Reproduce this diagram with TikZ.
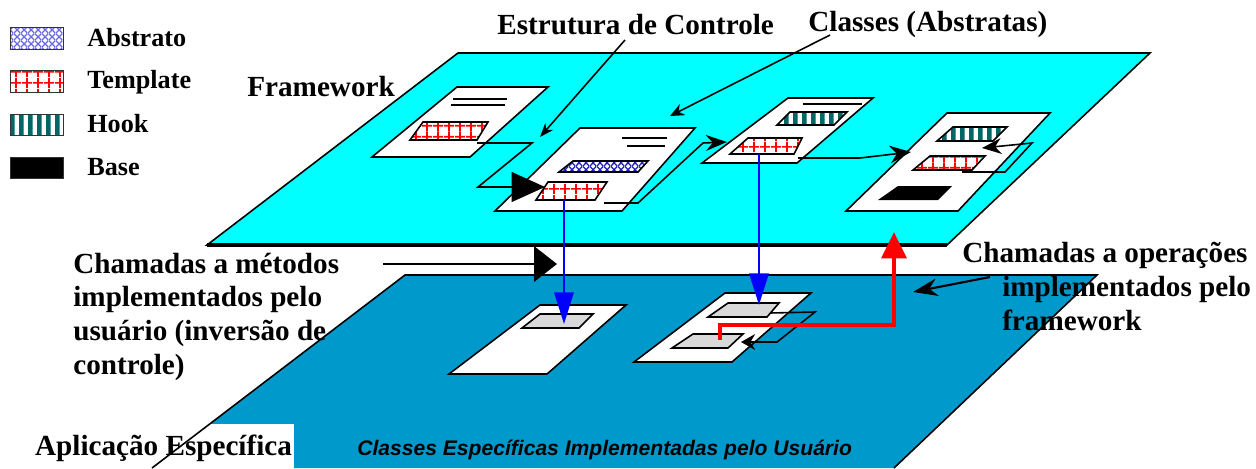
\documentclass[tikz,border=0pt]{standalone}
\usepackage{fontspec}
\setmainfont{Liberation Serif}
\setsansfont{Liberation Sans}
\usetikzlibrary{arrows.meta, patterns}

\definecolor{fwcyan}{HTML}{00FFFF}
\definecolor{appblue}{HTML}{0099CC}
\definecolor{hookteal}{HTML}{006666}
\definecolor{absblue}{HTML}{2020C0}
\definecolor{legblue}{HTML}{6A6AE6}
\definecolor{grayfill}{HTML}{D9D9D9}

\pgfdeclarepatternformonly{redgrid}{\pgfpointorigin}{\pgfpoint{6pt}{6pt}}{\pgfpoint{6pt}{6pt}}{
	\pgfsetlinewidth{1pt}
	\pgfpathmoveto{\pgfpoint{0pt}{3pt}}\pgfpathlineto{\pgfpoint{6pt}{3pt}}
	\pgfpathmoveto{\pgfpoint{3pt}{0pt}}\pgfpathlineto{\pgfpoint{3pt}{6pt}}
	\pgfusepath{stroke}}
\pgfdeclarepatternformonly{absgrid}{\pgfpointorigin}{\pgfpoint{4pt}{4pt}}{\pgfpoint{4pt}{4pt}}{
	\pgfsetlinewidth{0.8pt}
	\pgfpathmoveto{\pgfpoint{0pt}{0pt}}\pgfpathlineto{\pgfpoint{4pt}{4pt}}
	\pgfpathmoveto{\pgfpoint{0pt}{4pt}}\pgfpathlineto{\pgfpoint{4pt}{0pt}}
	\pgfusepath{stroke}}
\pgfdeclarepatternformonly{hookstripes}{\pgfpointorigin}{\pgfpoint{5pt}{5pt}}{\pgfpoint{5pt}{5pt}}{
	\pgfsetlinewidth{2.6pt}
	\pgfpathmoveto{\pgfpoint{2.5pt}{0pt}}\pgfpathlineto{\pgfpoint{2.5pt}{5pt}}
	\pgfusepath{stroke}}

\begin{document}
\begin{tikzpicture}[
		x=0.2mm, y=-0.2mm,
		>=Stealth,
		lbl/.style={font=\fontsize{16.6}{19.1}\selectfont\bfseries, inner sep=0pt, anchor=base west, align=left},
		leglbl/.style={font=\fontsize{14.9}{17}\selectfont\bfseries, inner sep=0pt, anchor=base west},
		legbox/.style={draw=black!80, line width=0.6pt, minimum width=30.6pt, minimum height=12.2pt, inner sep=0pt},
		cls/.style={draw, fill=white, line width=0.9pt},
		tplbox/.style={draw, line width=0.9pt, preaction={fill=white}, pattern=redgrid, pattern color=red},
		absbox/.style={draw, line width=0.9pt, preaction={fill=white}, pattern=absgrid, pattern color=absblue},
		hookbox/.style={draw, line width=0.9pt, preaction={fill=white}, pattern=hookstripes, pattern color=hookteal},
		graybox/.style={draw, line width=0.9pt, fill=grayfill},
		conn/.style={line width=0.9pt},
		blueconn/.style={blue, line width=1.5pt, -{Triangle[length=18pt,width=11pt]}},
		redconn/.style={red, line width=2.5pt, -{Triangle[length=15pt,width=14pt]}}
	]
	\useasboundingbox (0,0) rectangle (1256,468);

	% planes
	\draw[fill=fwcyan, line width=0.9pt] (207,245) -- (458,53) -- (1150,53) -- (947,245) -- cycle;
	\draw[line width=2pt] (207,245) -- (947,245);
	\fill[appblue] (152,468) -- (405,275) -- (1097,275) -- (894,468) -- cycle;

	% legend
	\node[legbox, preaction={fill=white}, pattern=absgrid, pattern color=legblue] (legabs) at (37,38.5) {};
	\node[legbox, preaction={fill=white}, pattern=redgrid, pattern color=red] (legtpl) at (37,81.5) {};
	\node[legbox, preaction={fill=white}, pattern=hookstripes, pattern color=hookteal] (leghook) at (37,125) {};
	\node[legbox, fill=black] (legbase) at (37,168) {};
	\node[leglbl] (labs) at (87,46) {Abstrato};
	\node[leglbl] (ltpl) at (87,88) {Template};
	\node[leglbl] (lhook) at (87,132) {Hook};
	\node[leglbl] (lbase) at (87,175) {Base};

	% texts (multi-line: base = last line)
	\node[lbl] (fwtxt) at (247,96) {Framework};
	\node[lbl] (ctrltxt) at (497,34) {Estrutura de Controle};
	\node[lbl] (clstxt) at (808,31) {Classes (Abstratas)};
	\node[lbl] (mettxt) at (73,374) {Chamadas a métodos\\implementados pelo\\usuário (inversão de\\controle)};
	\node[lbl] (optxt) at (962,330) {Chamadas a operações\\\hspace*{22.7pt}implementados pelo\\\hspace*{22.7pt}framework};
	\node[lbl, fill=white, inner xsep=1pt, inner ysep=6pt] (apptxt) at (33,455) {Aplicação Específica};
	\node[font=\fontsize{12}{14}\selectfont\sffamily\bfseries\itshape, inner sep=0pt, anchor=base west] (spectxt) at (357,455) {Classes Específicas Implementadas pelo Usuário};

	\draw[line width=0.9pt] (152,468) -- (405,275) -- (1097,275) -- (894,468);
	\draw[line width=1.5pt] (405,275) -- (1097,275);

	% framework classes
	\draw[cls] (457,87) -- (548,87) -- (470,157) -- (372,157) -- cycle;
	\draw[conn] (453,99) -- (507,99) (451,105) -- (505,105);
	\draw[tplbox] (423,122) -- (488,122) -- (477,140) -- (410,140) -- cycle;

	\draw[cls] (580,128) -- (695,128) -- (622,211) -- (495,211) -- cycle;
	\draw[conn] (622,138) -- (667,138) (627,146) -- (665,146);
	\draw[absbox] (573,161) -- (648,161) -- (638,172) -- (559,172) -- cycle;
	\draw[tplbox] (548,182) -- (607,182) -- (595,200) -- (536,200) -- cycle;

	\draw[cls] (788,98) -- (873,98) -- (797,163) -- (702,163) -- cycle;
	\draw[conn] (803,104) -- (862,104);
	\draw[hookbox] (790,112) -- (847,112) -- (834,125) -- (777,125) -- cycle;
	\draw[tplbox] (748,138) -- (802,138) -- (794,154) -- (730,154) -- cycle;

	\draw[cls] (947,113) -- (1050,113) -- (958,211) -- (846,211) -- cycle;
	\draw[hookbox] (953,127) -- (1007,127) -- (993,141) -- (937,141) -- cycle;
	\draw[tplbox] (930,156) -- (985,156) -- (972,170) -- (913,170) -- cycle;
	\fill (898,186) -- (952,186) -- (938,200) -- (878,200) -- cycle;

	% application classes
	\draw[cls] (540,305) -- (626,305) -- (547,374) -- (449,374) -- cycle;
	\draw[graybox] (540,314) -- (593,314) -- (579,328) -- (522,328) -- cycle;
	\draw[cls] (725,293) -- (811,293) -- (732,362) -- (634,362) -- cycle;
	\draw[graybox] (728,303) -- (779,303) -- (767,317) -- (708,317) -- cycle;
	\draw[graybox] (693,334) -- (743,334) -- (728,348) -- (672,348) -- cycle;

	% connectors
	\coordinate (ctrlA) at (625,40);
	\coordinate (ctrlB) at (540,137);
	\coordinate (clsA) at (830,35);
	\coordinate (clsB) at (670,116);
	\coordinate (c1out) at (477,143);
	\coordinate (c2in) at (545,187);
	\coordinate (c2out) at (604,203);
	\coordinate (c3in) at (727,142);
	\coordinate (c3out) at (798,158);
	\coordinate (c4in) at (911,152);
	\coordinate (c4out) at (962,172);
	\coordinate (c4back) at (982,148);
	\coordinate (c2tpl) at (564,200);
	\coordinate (aBox) at (564,324);
	\coordinate (c3tpl) at (759,154);
	\coordinate (bBox) at (759,305);
	\coordinate (bout) at (770,313);
	\coordinate (bback) at (741,342);
	\coordinate (bLow) at (720,340);
	\coordinate (c4base) at (894,232);
	\coordinate (metA) at (383,264);
	\coordinate (metB) at (557,264);
	\coordinate (opA) at (990,277);
	\coordinate (opB) at (913,292);

	\draw[conn, -{Stealth[length=8pt,width=6pt]}] (ctrlA) -- (ctrlB);
	\draw[conn, -{Stealth[length=8pt,width=7pt]}] (clsA) -- (clsB);
	\draw[conn, -{Triangle[length=19pt,width=17pt]}] (c1out) -- (532,143) -- (478,187) -- (c2in);
	\draw[conn, -{Stealth[length=12pt,width=9pt]}] (c2out) -- (638,203) -- (703,143) -- (c3in);
	\draw[conn, -{Stealth[length=12pt,width=10pt]}] (c3out) -- (860,158) -- (c4in);
	\draw[conn, -{Stealth[length=11pt,width=9pt]}] (c4out) -- (1005,172) -- (1032,143) -- (c4back);
	\draw[blueconn] (c2tpl) -- (aBox);
	\draw[blueconn] (c3tpl) -- (bBox);
	\draw[conn, -{Stealth[length=8pt,width=9pt]}] (bout) -- (815,312) -- (777,342) -- (bback);
	\draw[redconn] (bLow) -- (720,325) -- (894,325) -- (c4base);
	\draw[line width=1.5pt, -{Triangle[length=13pt,width=20pt]}] (metA) -- (metB);
	\draw[line width=1.2pt, -{Stealth[length=14pt,width=10pt]}] (opA) -- (opB);

\end{tikzpicture}
\end{document}
